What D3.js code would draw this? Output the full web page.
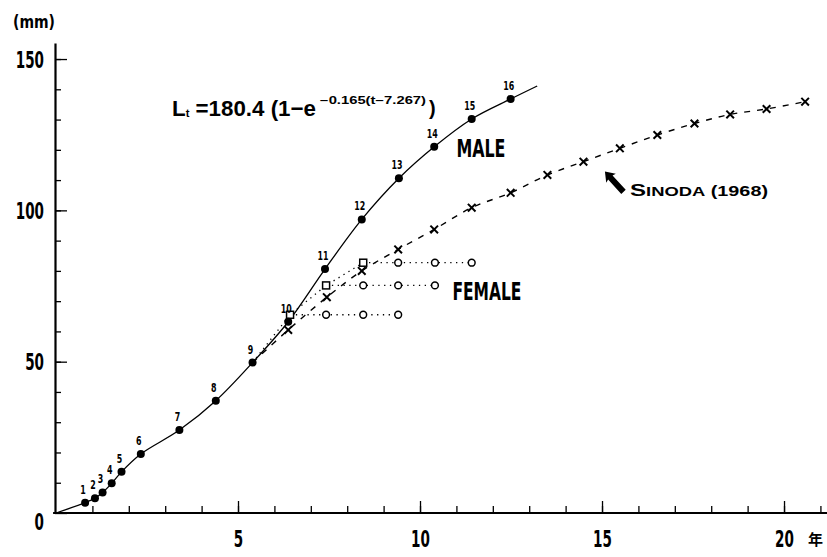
<!DOCTYPE html>
<html>
<head>
<meta charset="utf-8">
<script src="https://cdn.jsdelivr.net/npm/d3@7/dist/d3.min.js"></script>
<style>
  html, body { margin: 0; padding: 0; background: #fff; }
  svg { display: block; }
  .cond { font-family: "Liberation Sans Narrow", "DejaVu Sans Condensed", "Roboto Condensed", sans-serif; font-weight: bold; }
</style>
</head>
<body>
<svg id="chart" width="827" height="557"></svg>
<script>
// Growth in body length (mm) against age (years)

// Male: ring-numbered mean lengths
const maleLabels  = ["1","2","3","4","5","6","7","8","9","10","11","12","13","14","15","16"];
const maleAges    = [0.80, 1.07, 1.28, 1.53, 1.80, 2.33, 3.39, 4.39, 5.40, 6.38, 7.39, 8.40, 9.42, 10.39, 11.42, 12.49];
const maleLengths = [3.4, 4.9, 6.8, 9.8, 13.6, 19.5, 27.4, 37.1, 49.7, 63.2, 80.6, 97.0, 110.6, 121.0, 130.2, 136.8];
// start and end of the fitted male curve beyond the measured points
const maleCurveStart = [0, 0];
const maleCurveEnd   = [13.22, 141.1];

// Female: branch points (squares) and the plateau rows of circles after each
const femaleAges    = [6.43, 7.42, 8.44];
const femaleLengths = [65.5, 75.2, 82.7];
const femaleRowAges = [
  [7.42, 8.44, 9.40],
  [8.44, 9.40, 10.41],
  [9.40, 10.41, 11.42]
];

// Sinoda (1968)
const sinodaAges    = [6.38, 7.44, 8.40, 9.40, 10.39, 11.42, 12.49, 13.50, 14.49, 15.49, 16.52, 17.54, 18.52, 19.52, 20.58];
const sinodaLengths = [60.5, 71.3, 80.0, 87.1, 93.7, 100.9, 105.8, 111.7, 116.1, 120.5, 124.9, 128.7, 131.7, 133.5, 135.9];

// Axis ticks
const xMajorTicks = [5, 10, 15, 20];
const xMinorTicks = d3.range(1, 22);
const yMajorTicks = [0, 50, 100, 150];
const yMinorTicks = d3.range(10, 151, 10);

const svg = d3.select("#chart");
const x = d3.scaleLinear().domain([0, 21.2]).range([56, 827.7]);
const y = d3.scaleLinear().domain([0, 155.3]).range([513, 43]);
const ink = "#000";
const digitW = 9.4;   // narrow, tall numerals

// ---- axes ----
const gx = svg.append("g").attr("transform", `translate(0,${y(0)})`);
gx.call(d3.axisBottom(x).tickValues(xMinorTicks).tickSizeInner(-7).tickSizeOuter(0).tickFormat(""));
const gxMaj = svg.append("g").attr("transform", `translate(0,${y(0)})`)
  .call(d3.axisBottom(x).tickValues(xMajorTicks).tickSizeInner(-12).tickSizeOuter(0).tickFormat(d3.format("d")));
gxMaj.select(".domain").remove();
gx.select(".domain").attr("stroke-width", 2.2).attr("d", `M${x(-0.08)},0H${x(21.2)}`);
[gx, gxMaj].forEach(g => g.selectAll(".tick line").attr("stroke", ink).attr("stroke-width", 1.3));
gxMaj.selectAll(".tick text")
  .attr("class", "cond").attr("font-size", 23).attr("fill", ink)
  .attr("y", 34).attr("dy", null)
  .attr("textLength", d => String(d).length * digitW).attr("lengthAdjust", "spacingAndGlyphs");

const gy = svg.append("g").attr("transform", `translate(${x(0) - 1},0)`);
gy.call(d3.axisLeft(y).tickValues(yMinorTicks).tickSizeInner(-6).tickSizeOuter(0).tickFormat(""));
const gyMaj = svg.append("g").attr("transform", `translate(${x(0) - 1},0)`)
  .call(d3.axisLeft(y).tickValues(yMajorTicks).tickSizeInner(-12).tickSizeOuter(0).tickPadding(11).tickFormat(d3.format("d")));
gyMaj.select(".domain").remove();
gy.select(".domain").attr("stroke-width", 2.2);
[gy, gyMaj].forEach(g => g.selectAll(".tick line").attr("stroke", ink).attr("stroke-width", 1.3));
gyMaj.selectAll(".tick text")
  .attr("class", "cond").attr("font-size", 23).attr("fill", ink)
  .attr("dy", d => d === 0 ? "0.7em" : "0.36em")
  .attr("textLength", d => String(d).length * digitW).attr("lengthAdjust", "spacingAndGlyphs");

// axis units
svg.append("text").attr("class", "cond").attr("x", 13).attr("y", 28)
  .attr("font-size", 17).attr("textLength", 42).attr("lengthAdjust", "spacingAndGlyphs").text("(mm)");
svg.append("text").attr("x", x(20) + 24).attr("y", 545)
  .attr("font-family", "Noto Sans CJK JP, sans-serif").attr("font-size", 15).attr("font-weight", "bold").text("年");

// ---- lines ----
const line = d3.line().x(d => x(d[0])).y(d => y(d[1]));
const malePts = maleAges.map((a, i) => [a, maleLengths[i]]);
const branch = malePts[8];

// male fitted curve
svg.append("path")
  .datum([maleCurveStart, ...malePts, maleCurveEnd])
  .attr("d", line.curve(d3.curveCatmullRom.alpha(0.5)))
  .attr("fill", "none").attr("stroke", ink).attr("stroke-width", 1.3);

// Sinoda dashed curve
const sinodaPts = sinodaAges.map((a, i) => [a, sinodaLengths[i]]);
svg.append("path")
  .datum([branch, ...sinodaPts])
  .attr("d", line.curve(d3.curveCatmullRom.alpha(0.5)))
  .attr("fill", "none").attr("stroke", ink).attr("stroke-width", 1.4)
  .attr("stroke-dasharray", "6,7");

// female dotted growth line and plateau rows
const femalePts = femaleAges.map((a, i) => [a, femaleLengths[i]]);
svg.append("path")
  .datum([branch, ...femalePts])
  .attr("d", line.curve(d3.curveLinear))
  .attr("fill", "none").attr("stroke", ink).attr("stroke-width", 1.3)
  .attr("stroke-dasharray", "1.3,4.5");
femaleRowAges.forEach((row, i) => {
  svg.append("path")
    .datum([femalePts[i], ...row.map(a => [a, femaleLengths[i]])])
    .attr("d", line.curve(d3.curveLinear))
    .attr("fill", "none").attr("stroke", ink).attr("stroke-width", 1.3)
    .attr("stroke-dasharray", "1.3,4.5");
});

// ---- markers ----
// Sinoda crosses
svg.append("g").selectAll("path").data(sinodaPts).join("path")
  .attr("transform", d => `translate(${x(d[0])},${y(d[1])})`)
  .attr("d", "M-3.8,-3.8L3.8,3.8M-3.8,3.8L3.8,-3.8")
  .attr("stroke", ink).attr("stroke-width", 2);

// female squares and circles
svg.append("g").selectAll("rect").data(femalePts).join("rect")
  .attr("x", d => x(d[0]) - 3.5).attr("y", d => y(d[1]) - 3.5)
  .attr("width", 7).attr("height", 7)
  .attr("fill", "#fff").attr("stroke", ink).attr("stroke-width", 1.5);
femaleRowAges.forEach((row, i) => {
  svg.append("g").selectAll("circle").data(row).join("circle")
    .attr("cx", a => x(a)).attr("cy", y(femaleLengths[i])).attr("r", 3.4)
    .attr("fill", "#fff").attr("stroke", ink).attr("stroke-width", 1.5);
});

// male dots with ring numbers
svg.append("g").selectAll("circle").data(malePts).join("circle")
  .attr("cx", d => x(d[0])).attr("cy", d => y(d[1])).attr("r", 4)
  .attr("fill", ink);
svg.append("g").selectAll("text").data(malePts).join("text")
  .attr("class", "cond")
  .attr("x", d => x(d[0]) - 2).attr("y", d => y(d[1]) - 9)
  .attr("text-anchor", "middle").attr("font-size", 13)
  .attr("textLength", (d, i) => maleLabels[i].length * 5.5).attr("lengthAdjust", "spacingAndGlyphs")
  .text((d, i) => maleLabels[i]);

// ---- annotations ----
svg.append("text").attr("class", "cond").attr("x", x(11.0)).attr("y", y(117.5))
  .attr("font-size", 24).attr("textLength", 49).attr("lengthAdjust", "spacingAndGlyphs").text("MALE");
svg.append("text").attr("class", "cond").attr("x", x(10.89)).attr("y", y(70.3))
  .attr("font-size", 24).attr("textLength", 69).attr("lengthAdjust", "spacingAndGlyphs").text("FEMALE");

// growth equation
const eq = svg.append("g").attr("font-family", "Liberation Sans, Arial, sans-serif").attr("font-weight", "bold");
const eqMain = eq.append("text").attr("x", 172).attr("y", 116).attr("font-size", 22)
  .attr("textLength", 144).attr("lengthAdjust", "spacingAndGlyphs");
eqMain.append("tspan").text("L");
eqMain.append("tspan").attr("font-size", 11).attr("dy", 1).text("t");
eqMain.append("tspan").attr("dy", -1).text(" =180.4 (1\u2212e");
eq.append("text").attr("x", 320).attr("y", 104).attr("font-size", 10)
  .attr("textLength", 106).attr("lengthAdjust", "spacingAndGlyphs").text("\u22120.165(t\u22127.267)");
eq.append("text").attr("x", 429).attr("y", 115).attr("font-size", 20).text(")");

// Sinoda label with arrow
const tip = [x(15.08), y(112.8)], tail = [x(15.59), y(106.1)];
const ang = Math.atan2(tip[1] - tail[1], tip[0] - tail[0]) * 180 / Math.PI;
const len = Math.hypot(tip[0] - tail[0], tip[1] - tail[1]);
svg.append("path")
  .attr("transform", `translate(${tip[0]},${tip[1]}) rotate(${ang})`)
  .attr("d", `M0,0L-9,-6.5L-8,-3L${-len},-3L${-len},3L-8,3L-9,6.5Z`)
  .attr("fill", ink);
const sl = svg.append("text").attr("x", 630).attr("y", 196)
  .attr("font-family", "Liberation Sans, Arial, sans-serif").attr("font-weight", "bold")
  .attr("textLength", 138).attr("lengthAdjust", "spacingAndGlyphs");
sl.append("tspan").attr("font-size", 17).text("S");
sl.append("tspan").attr("font-size", 13).text("INODA");
sl.append("tspan").attr("font-size", 14).text(" (1968)");
</script>
</body>
</html>
